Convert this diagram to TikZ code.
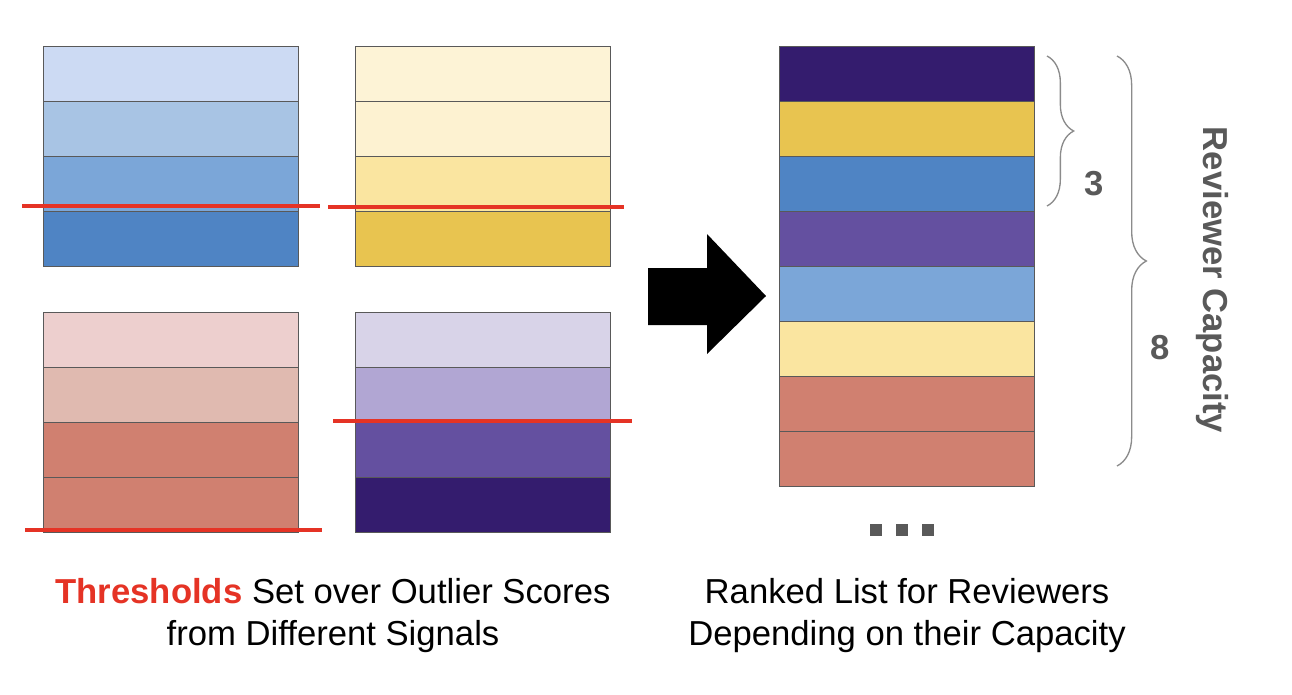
\documentclass[tikz,border=0pt]{standalone}
\usepackage{fontspec}
\setmainfont{Liberation Sans}
\usetikzlibrary{decorations.pathreplacing}
\definecolor{b1}{HTML}{CCDAF3}\definecolor{b2}{HTML}{A8C4E4}\definecolor{b3}{HTML}{7BA6D8}\definecolor{b4}{HTML}{4F84C4}
\definecolor{y1}{HTML}{FDF3D6}\definecolor{y2}{HTML}{FDF2D1}\definecolor{y3}{HTML}{FAE5A0}\definecolor{y4}{HTML}{E8C450}
\definecolor{r1}{HTML}{EDCFCE}\definecolor{r2}{HTML}{E0BAB0}\definecolor{r3}{HTML}{D08070}
\definecolor{p1}{HTML}{D8D3E8}\definecolor{p2}{HTML}{B1A6D3}\definecolor{p3}{HTML}{6450A0}\definecolor{p4}{HTML}{341C6E}
\definecolor{thr}{HTML}{E53325}\definecolor{gr}{HTML}{595959}
\tikzset{cell/.style={draw=gr,line width=0.7pt},thr/.style={draw=thr,line width=3.6pt},
captxt/.style={font=\fontsize{26}{31.5}\selectfont,align=center},
br/.style={draw=gr!70,line width=1pt,decorate}}
\newcommand{\stk}[4]{\foreach \c [count=\i from 0] in {#4}{\filldraw[cell,fill=\c] (#1,#2+55*\i) rectangle ++(255,55);}}
\begin{document}
\begin{tikzpicture}[x=0.75pt,y=-0.75pt]
\useasboundingbox (0,0) rectangle (1292,694);
\stk{43}{46}{}{b1,b2,b3,b4}
\stk{355}{46}{}{y1,y2,y3,y4}
\stk{43}{312}{}{r1,r2,r3,r3}
\stk{355}{312}{}{p1,p2,p3,p4}
\stk{779}{46}{}{p4,y4,b4,p3,b3,y3,r3,r3}
\coordinate (t1a) at (22,206); \coordinate (t1b) at (320,206);
\coordinate (t2a) at (328,207); \coordinate (t2b) at (624,207);
\coordinate (t3a) at (25,530); \coordinate (t3b) at (322,530);
\coordinate (t4a) at (333,421); \coordinate (t4b) at (632,421);
\draw[thr] (t1a)--(t1b); \draw[thr] (t2a)--(t2b); \draw[thr] (t3a)--(t3b); \draw[thr] (t4a)--(t4b);
\fill[black] (648,268)--(707,268)--(707,234)--(766,296)--(707,354)--(707,325)--(648,325)--cycle;
\foreach \x in {876,902,928} \fill[gr] (\x-6,524) rectangle ++(12,12);
\node[inner sep=0] (dots) at (902,530) {};
\draw[br,decoration={brace,amplitude=20pt}] (1047,56)--(1047,206);
\draw[br,decoration={brace,amplitude=22pt}] (1117,56)--(1117,466);
\node[text=gr,font=\fontsize{26}{31}\selectfont\bfseries] (n3) at (1094,184) {3};
\node[text=gr,font=\fontsize{26}{31}\selectfont\bfseries] (n8) at (1160,348) {8};
\node[text=gr,font=\fontsize{26}{31}\selectfont\bfseries,rotate=-90] (rc) at (1212,280) {Reviewer Capacity};
\node[captxt] (c1) at (333,616) {{\color{thr}\bfseries Thresholds} Set over Outlier Scores\\from Different Signals};
\node[captxt] (c2) at (907,616) {Ranked List for Reviewers\\Depending on their Capacity};
\end{tikzpicture}
\end{document}
